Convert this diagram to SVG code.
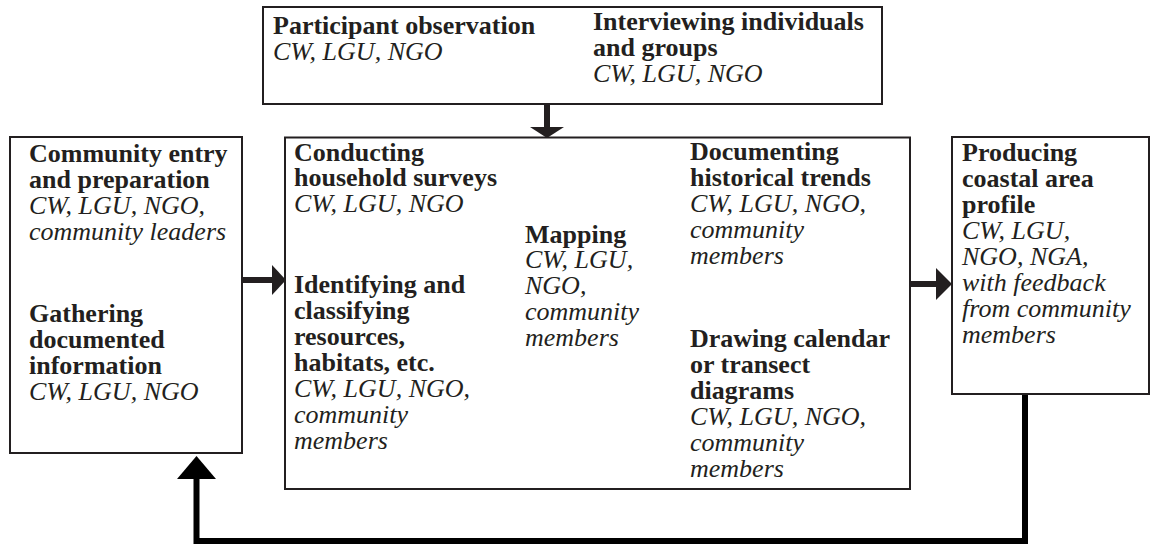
<svg xmlns="http://www.w3.org/2000/svg" width="1155" height="546" viewBox="0 0 1155 546">
<style>
.box{fill:#fff;stroke:#231f20;stroke-width:2}
text{font-family:"Liberation Serif","Times New Roman",serif;font-size:26px;fill:#231f20}
.b{font-weight:bold}
.i{font-style:italic}
.shaft{stroke:#231f20;stroke-width:6;fill:none}
.head{fill:#231f20}
.fb{stroke:#000;stroke-width:6;fill:none}
</style>
<rect width="1155" height="546" fill="#fff"/>
<g id="connectors">
<line class="shaft" x1="547" y1="104" x2="547" y2="128"/>
<polygon class="head" points="530,127 564,127 547,138"/>
<line class="shaft" x1="242" y1="280" x2="273" y2="280"/>
<polygon class="head" points="272,265 286,280 272,295"/>
<line class="shaft" x1="910" y1="284" x2="937" y2="284"/>
<polygon class="head" points="936,268 952,284 936,300"/>
<polyline class="fb" points="1025,394 1025,541 196.5,541 196.5,477"/>
<polygon fill="#000" points="177,479 216,479 196.5,456"/>
</g>
<g id="top">
<rect class="box" x="263" y="7" width="619" height="97"/>
<text x="273" y="34" class="b">Participant observation</text>
<text x="273" y="60" class="i">CW, LGU, NGO</text>
<text x="593" y="30" class="b">Interviewing individuals</text>
<text x="593" y="56" class="b">and groups</text>
<text x="593" y="82" class="i">CW, LGU, NGO</text>
</g>
<g id="left">
<rect class="box" x="10" y="137" width="232" height="316"/>
<text x="29" y="162" class="b">Community entry</text>
<text x="29" y="188" class="b">and preparation</text>
<text x="29" y="214" class="i">CW, LGU, NGO,</text>
<text x="29" y="240" class="i">community leaders</text>
<text x="29" y="322" class="b">Gathering</text>
<text x="29" y="348" class="b">documented</text>
<text x="29" y="374" class="b">information</text>
<text x="29" y="400" class="i">CW, LGU, NGO</text>
</g>
<g id="center">
<rect class="box" x="285" y="137.5" width="625" height="351.5"/>
<text x="294" y="161" class="b">Conducting</text>
<text x="294" y="186" class="b">household surveys</text>
<text x="294" y="212" class="i">CW, LGU, NGO</text>
<text x="294" y="293" class="b">Identifying and</text>
<text x="294" y="319" class="b">classifying</text>
<text x="294" y="345" class="b">resources,</text>
<text x="294" y="371" class="b">habitats, etc.</text>
<text x="294" y="397" class="i">CW, LGU, NGO,</text>
<text x="294" y="423" class="i">community</text>
<text x="294" y="449" class="i">members</text>
<text x="525" y="243" class="b">Mapping</text>
<text x="525" y="268" class="i">CW, LGU,</text>
<text x="525" y="294" class="i">NGO,</text>
<text x="525" y="320" class="i">community</text>
<text x="525" y="346" class="i">members</text>
<text x="690" y="160" class="b">Documenting</text>
<text x="690" y="186" class="b">historical trends</text>
<text x="690" y="212" class="i">CW, LGU, NGO,</text>
<text x="690" y="238" class="i">community</text>
<text x="690" y="264" class="i">members</text>
<text x="690" y="347" class="b">Drawing calendar</text>
<text x="690" y="373" class="b">or transect</text>
<text x="690" y="399" class="b">diagrams</text>
<text x="690" y="425" class="i">CW, LGU, NGO,</text>
<text x="690" y="451" class="i">community</text>
<text x="690" y="477" class="i">members</text>
</g>
<g id="right">
<rect class="box" x="952" y="137" width="197" height="257"/>
<text x="962" y="161" class="b">Producing</text>
<text x="962" y="187" class="b">coastal area</text>
<text x="962" y="213" class="b">profile</text>
<text x="962" y="239" class="i">CW, LGU,</text>
<text x="962" y="265" class="i">NGO, NGA,</text>
<text x="962" y="291" class="i">with feedback</text>
<text x="962" y="317" class="i">from community</text>
<text x="962" y="343" class="i">members</text>
</g>
</svg>
